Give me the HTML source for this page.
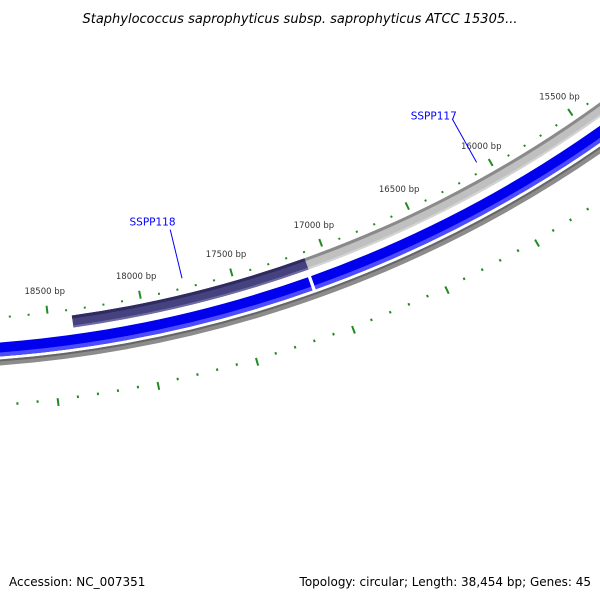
<!DOCTYPE html>
<html><head><meta charset="utf-8"><style>
html,body{margin:0;padding:0;background:#fff;}
svg{display:block;}
</style></head><body>
<svg id="map" width="600" height="600" viewBox="0 0 600 600" xmlns="http://www.w3.org/2000/svg" font-family="'DejaVu Sans','Liberation Sans',sans-serif">
<rect width="600" height="600" fill="#fff"/>
<text x="300" y="23" text-anchor="middle" font-size="13" font-style="italic" fill="#000">Staphylococcus saprophyticus subsp. saprophyticus ATCC 15305...</text>
<g id="plot"></g>
<text x="9" y="586" font-size="12" fill="#000">Accession: NC_007351</text>
<text x="591" y="586" text-anchor="end" font-size="12" fill="#000">Topology: circular; Length: 38,454 bp; Genes: 45</text>
</svg>
<script>
// data
const tickLabelsBp = [15500, 16000, 16500, 17000, 17500, 18000, 18500];
const minorTickStartBp = 14500;
const minorTickEndBp = 19500;
const minorTickStep = 100;
const featureNames = ["SSPP118", "SSPP117"];
const featureStarts = [17108, 14000];
const featureEnds = [18374, 17108];
const featureColors = ["#45427f", "#c0c0c0"];
const featureEdge = ["#2e2b60", "#8a8a8a"];
const blueStarts = [17115, 14000];
const blueEnds = [19500, 17115];
const labelBp = [17762, 16065];

// axis: bp -> angle, radius -> point
const CX = -92, CY = -851;
const A0 = 83.17, BP0 = 18500, DEG_PER_BP = 0.009227;
function ang(bp){ return (A0 + (bp - BP0) * DEG_PER_BP) * Math.PI / 180; }
function pt(bp, r){ const a = ang(bp); return [CX + r*Math.cos(a), CY + r*Math.sin(a)]; }
const NS = "http://www.w3.org/2000/svg";
const plot = document.getElementById('plot');
function mk(tag, attrs){ const e = document.createElementNS(NS, tag); for (const k in attrs) e.setAttribute(k, attrs[k]); plot.appendChild(e); return e; }
function band(b1, b2, r1, r2){
  const p1 = pt(b1, r1), p2 = pt(b2, r1), p3 = pt(b2, r2), p4 = pt(b1, r2);
  return `M${p1[0]},${p1[1]} A${r1},${r1} 0 0 1 ${p2[0]},${p2[1]} L${p3[0]},${p3[1]} A${r2},${r2} 0 0 0 ${p4[0]},${p4[1]} Z`;
}

// backbone ring
let e = mk('path', {d: band(14000, 19500, 1214, 1220), fill: '#8c8c8c'});


e = mk('path', {d: band(14000, 19500, 1214, 1216), fill: '#666'});



// blue genes
for (let i = 0; i < blueStarts.length; i++){
  e = mk('path', {d: band(blueStarts[i], blueEnds[i], 1197, 1211), fill: '#0000ee'});
  
  
  const hl = mk('path', {d: band(blueStarts[i], blueEnds[i], 1207, 1211), fill: '#4d4dff'});
  
  
}
// gap between blue genes
e = mk('path', {d: band(17108, 17125, 1196, 1212), fill: '#fff'});



// features
for (let i = 0; i < featureNames.length; i++){
  e = mk('path', {d: band(featureStarts[i], featureEnds[i], 1178, 1190), fill: featureColors[i]});
  
  
  const ed = mk('path', {d: band(featureStarts[i], featureEnds[i], 1178, 1181), fill: featureEdge[i]});
  
  
  const lo = mk('path', {d: band(featureStarts[i], featureEnds[i], 1188, 1190), fill: i === 0 ? '#6e6ba0' : '#d4d4d4'});
  
  
}

// ticks
for (let bp = minorTickStartBp; bp <= minorTickEndBp; bp += minorTickStep){
  const major = bp % 500 === 0;
  let a = pt(bp, major ? 1165 : 1171), b = pt(bp, 1173);
  e = mk('line', {x1: a[0], y1: a[1], x2: b[0], y2: b[1], stroke: '#228b22', 'stroke-width': 2});
  
  
  a = pt(bp, 1258); b = pt(bp, major ? 1266 : 1260.5);
  e = mk('line', {x1: a[0], y1: a[1], x2: b[0], y2: b[1], stroke: '#228b22', 'stroke-width': 2});
  
  
}
for (let i = 0; i < tickLabelsBp.length; i++){
  const p = pt(tickLabelsBp[i], 1150);
  e = mk('text', {x: p[0], y: p[1] + 3, 'text-anchor': 'middle', 'font-size': 8.5, fill: '#333'});
  e.textContent = tickLabelsBp[i] + ' bp';
  
  
}

// feature labels
for (let i = 0; i < featureNames.length; i++){
  const p0 = pt(labelBp[i], 1162), p1 = pt(labelBp[i], 1112), pl = pt(labelBp[i] + 90, 1103);
  e = mk('line', {x1: p0[0], y1: p0[1], x2: p1[0], y2: p1[1], stroke: '#0000ff', 'stroke-width': 1});
  
  
  e = mk('text', {x: pl[0], y: pl[1] + 1, 'text-anchor': 'middle', 'font-size': 10.5, fill: '#0000ff'});
  e.textContent = featureNames[i];
  
  
}
</script>
</body></html>
